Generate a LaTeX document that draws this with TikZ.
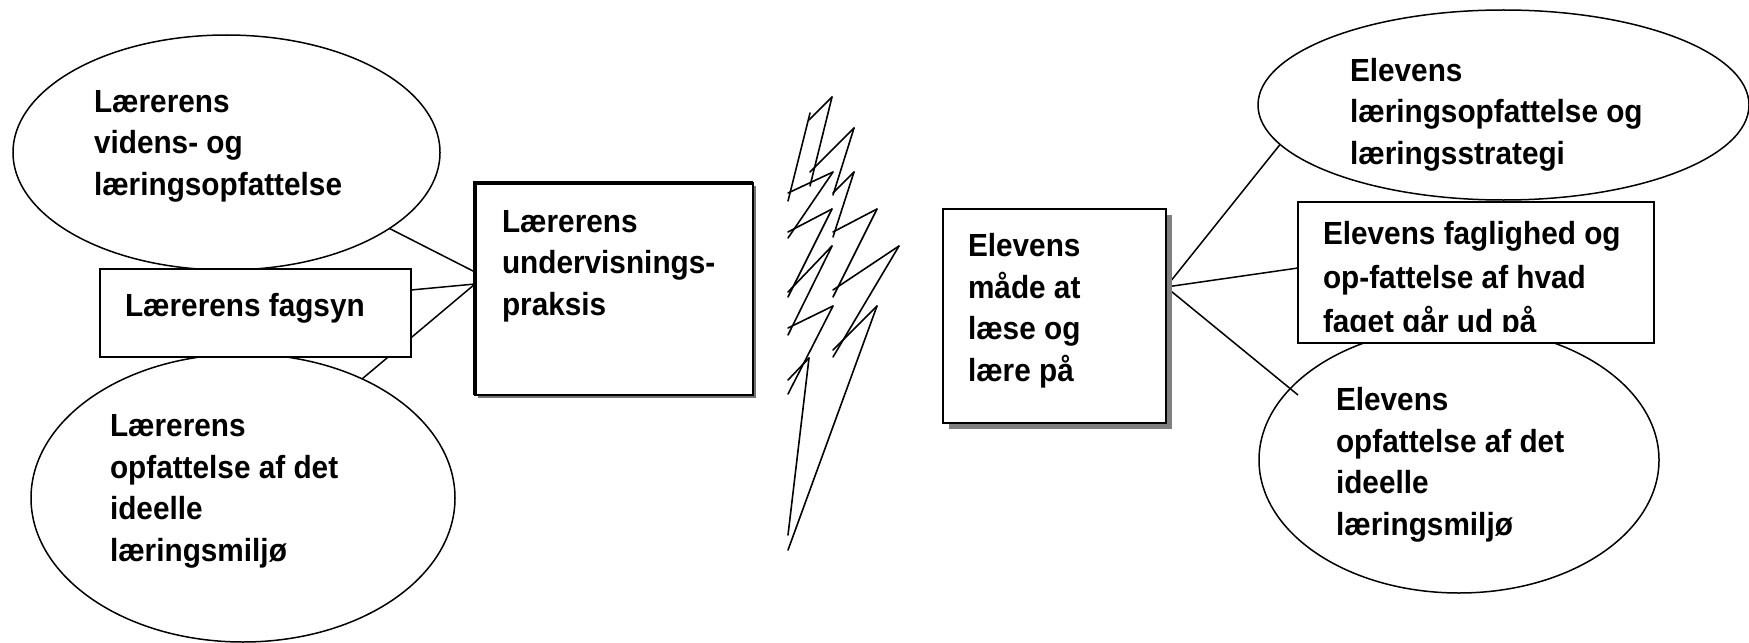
\documentclass[tikz,border=0pt]{standalone}
\usepackage{fontspec}
\setmainfont{Liberation Sans}[FakeStretch=0.93]
\usetikzlibrary{calc,shapes.geometric,shadows}
\pgfdeclarelayer{bg}
\pgfdeclarelayer{fg}
\pgfsetlayers{bg,main,fg}
\begin{document}
\begin{tikzpicture}[x=0.5pt,y=-0.5pt,
  every node/.style={inner sep=0pt, outer sep=0pt},
  oval/.style={ellipse, draw, fill=white, line width=0.75pt},
  box/.style={rectangle, draw, fill=white, line width=0.9pt},
  txt/.style={align=left, anchor=base west, font=\fontsize{16pt}{20.75pt}\selectfont\bfseries},
  link/.style={line width=0.75pt},
  bolt/.style={line width=0.8pt, line cap=round, line join=round}]
\useasboundingbox (0,0) rectangle (1749,642);

% ---------- ellipses (background layer); text nodes placed at last baseline
\begin{pgfonlayer}{bg}
\node[oval, minimum width=213.5pt, minimum height=117.5pt] (lt) at (226.5,152.5) {};
\node[txt] (ltT) at (94,195) {Lærerens\\videns- og\\læringsopfattelse};

\node[oval, minimum width=212pt, minimum height=144pt] (lb) at (243,498) {};
\node[txt] (lbT) at (110,561) {Lærerens\\opfattelse af det\\ideelle\\læringsmiljø};

\node[oval, minimum width=245.5pt, minimum height=95pt] (rt) at (1503.5,105) {};
\begin{scope}
\clip (1340,30) rectangle (1740,170);
\node[txt] (rtT) at (1350,164) {Elevens\\læringsopfattelse og\\læringsstrategi};
\end{scope}

\node[oval, minimum width=200pt, minimum height=133pt] (rb) at (1459,460) {};
\node[txt] (rbT) at (1336,535) {Elevens\\opfattelse af det\\ideelle\\læringsmiljø};
\end{pgfonlayer}

% ---------- boxes (foreground layer)
\begin{pgfonlayer}{fg}
\node[box, minimum width=155.5pt, minimum height=44pt] (lf) at (255.5,313) {};
\node[txt] (lfT) at (125,316) {Lærerens fagsyn};

\node[box, minimum width=139pt, minimum height=106pt,
  drop shadow={shadow xshift=1.6pt, shadow yshift=-1.6pt, fill=black!55, opacity=1}] (pr) at (614,289) {};
\draw[line width=1.6pt] (pr.south west) -- (pr.north west) -- (pr.north east);
\node[txt] (prT) at (502,315) {Lærerens\\undervisnings-\\praksis};

\node[box, line width=0.75pt, minimum width=111.5pt, minimum height=107pt,
  drop shadow={shadow xshift=3pt, shadow yshift=-3pt, fill=black!50, opacity=1}] (md) at (1054.5,316) {};
\node[txt] (mdT) at (968,381) {Elevens\\måde at\\læse og\\lære på};

\node[box, minimum width=178pt, minimum height=70.5pt] (rf) at (1476,272.5) {};
\begin{scope}
\clip (1300,204) rectangle (1650,331);
\node[txt, font=\fontsize{16pt}{22pt}\selectfont\bfseries] (rfT) at (1323,332) {Elevens faglighed og\\op-fattelse af hvad\\faget går ud på};
\end{scope}

% ---------- lightning
\foreach \a/\b in {
  {832,97}/{809,120}, {810,113}/{788,201}, {832,97}/{810,186},
  {788,193}/{833,172}, {810,172}/{854,128}, {854,128}/{833,195},
  {833,193}/{854,172}, {833,172}/{788,238}, {788,232}/{832,209},
  {854,172}/{833,237}, {833,232}/{877,209}, {832,209}/{788,297},
  {877,209}/{833,297}, {832,246}/{788,292}, {832,246}/{788,335},
  {788,328}/{833,306}, {833,290}/{899,246}, {899,246}/{833,357},
  {833,350}/{877,306}, {877,306}/{788,550}, {833,306}/{788,394},
  {788,380}/{809,358}, {809,358}/{788,535}}
  \draw[bolt] (\a) -- (\b);
\end{pgfonlayer}

% ---------- connectors (main layer: over ellipses, under boxes)
\draw[link] (lt.-25) -- ($(pr.west)+(0,-17)$);
\draw[link] ($(lf.east)+(0,-23)$) -- ($(pr.west)+(0,-5)$);
\draw[link] (lb.45) -- ($(pr.west)+(0,-5)$);
\draw[link] ($(md.east)+(0,-29)$) -- (rt.190);
\draw[link] ($(md.east)+(0,-29)$) -- ($(rf.west)+(0,-4.5)$);
\coordinate (rbEnd) at (1298,395);
\draw[link] ($(md.east)+(0,-29)$) -- (rbEnd);
\end{tikzpicture}
\end{document}
